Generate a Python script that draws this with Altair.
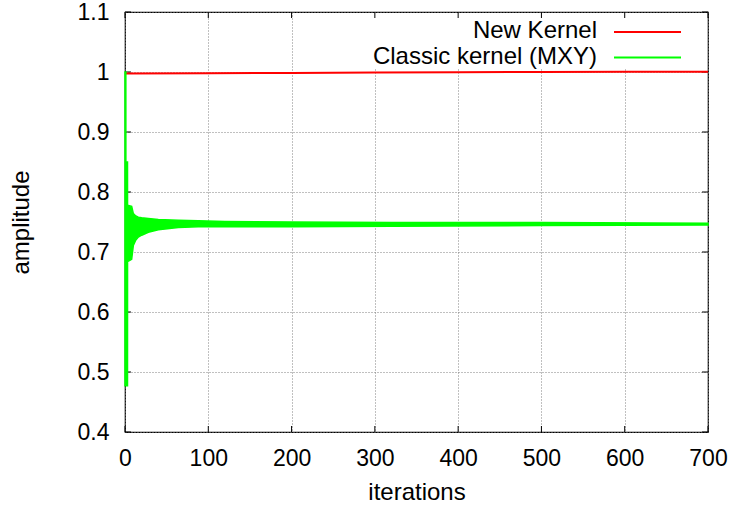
import altair as alt
import pandas as pd

# ---- data ----
red_iters = [0, 100, 200, 300, 400, 500, 600, 700]
red_vals = [0.9975, 0.998, 0.9985, 0.999, 0.9995, 1.0, 1.0003, 1.0005]

# envelope of the fast oscillation of the classic kernel
band_iters = [0, 1, 1.05, 3, 3.05, 8, 10, 13, 16, 20, 28, 40, 64, 88, 120, 200, 320, 500, 700]
band_upper = [1.0, 1.0, 0.85, 0.85, 0.778, 0.776, 0.764, 0.76, 0.758, 0.757, 0.756, 0.754,
              0.753, 0.752, 0.751, 0.750, 0.749, 0.749, 0.748]
band_lower = [0.477, 0.477, 0.477, 0.477, 0.684, 0.688, 0.711, 0.72, 0.725, 0.728, 0.733,
              0.737, 0.741, 0.742, 0.742, 0.742, 0.743, 0.744, 0.745]

x_ticks = [0, 100, 200, 300, 400, 500, 600, 700]
y_ticks = [0.4, 0.5, 0.6, 0.7, 0.8, 0.9, 1.0, 1.1]

series_names = ["New Kernel", "Classic kernel (MXY)"]
series_colors = ["#ff0000", "#00ff00"]

W, H = 583, 420
FONT = "Liberation Sans"
FS_LAB = 23
FS_TXT = 24

red_df = pd.DataFrame({"it": red_iters, "amp": red_vals})
band_df = pd.DataFrame({"it": band_iters, "lo": band_lower, "hi": band_upper})
xt_df = pd.DataFrame({"v": x_ticks})
yt_df = pd.DataFrame({"v": y_ticks})

xscale = alt.Scale(domain=[0, 700], nice=False, zero=False)
yscale = alt.Scale(domain=[0.4, 1.1], nice=False, zero=False)

xaxis = alt.Axis(values=x_ticks, title="iterations", grid=True, ticks=False, domain=False,
                 labelFont=FONT, labelFontSize=FS_LAB, labelColor="black", labelPadding=15,
                 titleFont=FONT, titleFontSize=FS_TXT, titleFontWeight="normal", titleColor="black",
                 titlePadding=10, gridColor="#808080", gridDash=[1, 2], gridWidth=1,
                 labelFlush=False)
yaxis = alt.Axis(values=y_ticks, title="amplitude", grid=True, ticks=False, domain=False,
                 format="~g",
                 labelFont=FONT, labelFontSize=FS_LAB, labelColor="black", labelPadding=16,
                 titleFont=FONT, titleFontSize=FS_TXT, titleFontWeight="normal", titleColor="black",
                 titlePadding=44, gridColor="#808080", gridDash=[1, 2], gridWidth=1,
                 labelFlush=False)

base_axes = alt.Chart(red_df).mark_line(opacity=0).encode(
    x=alt.X("it:Q", scale=xscale, axis=xaxis),
    y=alt.Y("amp:Q", scale=yscale, axis=yaxis),
)

# opaque key box
key_box = alt.Chart(red_df.head(1)).mark_rect(color="white").encode(
    x=alt.value(228), x2=alt.value(582), y=alt.value(1), y2=alt.value(57)
)

# inward ticks on all four sides
tick_len = 6
bottom_ticks = alt.Chart(xt_df).mark_rule(color="black").encode(
    x=alt.X("v:Q", scale=xscale), y=alt.value(H), y2=alt.value(H - tick_len))
top_ticks = alt.Chart(xt_df).mark_rule(color="black").encode(
    x=alt.X("v:Q", scale=xscale), y=alt.value(0), y2=alt.value(tick_len))
left_ticks = alt.Chart(yt_df).mark_rule(color="black").encode(
    y=alt.Y("v:Q", scale=yscale), x=alt.value(0), x2=alt.value(tick_len))
right_ticks = alt.Chart(yt_df).mark_rule(color="black").encode(
    y=alt.Y("v:Q", scale=yscale), x=alt.value(W), x2=alt.value(W - tick_len))

red_line = alt.Chart(red_df).mark_line(color=series_colors[0], strokeWidth=2).encode(
    x=alt.X("it:Q", scale=xscale), y=alt.Y("amp:Q", scale=yscale))

green_band = alt.Chart(band_df).mark_area(
    color=series_colors[1], stroke=series_colors[1], strokeWidth=1.5, opacity=1
).encode(
    x=alt.X("it:Q", scale=xscale), y=alt.Y("lo:Q", scale=yscale), y2="hi:Q")

# manual key (labels left of the line samples)
leg_rows = [19, 44.5]
leg_layers = []
for name, col, yy in zip(series_names, series_colors, leg_rows):
    d = pd.DataFrame({"name": [name]})
    leg_layers.append(alt.Chart(d).mark_text(
        align="right", baseline="middle", font=FONT, fontSize=FS_TXT, color="black"
    ).encode(text="name:N", x=alt.value(472), y=alt.value(yy)))
    leg_layers.append(alt.Chart(d).mark_rule(color=col, strokeWidth=2).encode(
        x=alt.value(489), x2=alt.value(556), y=alt.value(yy + 1)))

chart = alt.layer(
    base_axes, key_box, bottom_ticks, top_ticks, left_ticks, right_ticks,
    red_line, green_band, *leg_layers
).properties(
    width=W, height=H,
    autosize=alt.AutoSizeParams(type="none"),
    padding={"left": 125, "top": 12, "right": 30, "bottom": 76},
    background="white",
).configure_view(stroke="black", strokeWidth=1.2)

chart.save("out.html", embed_options={"renderer": "svg", "actions": False})
